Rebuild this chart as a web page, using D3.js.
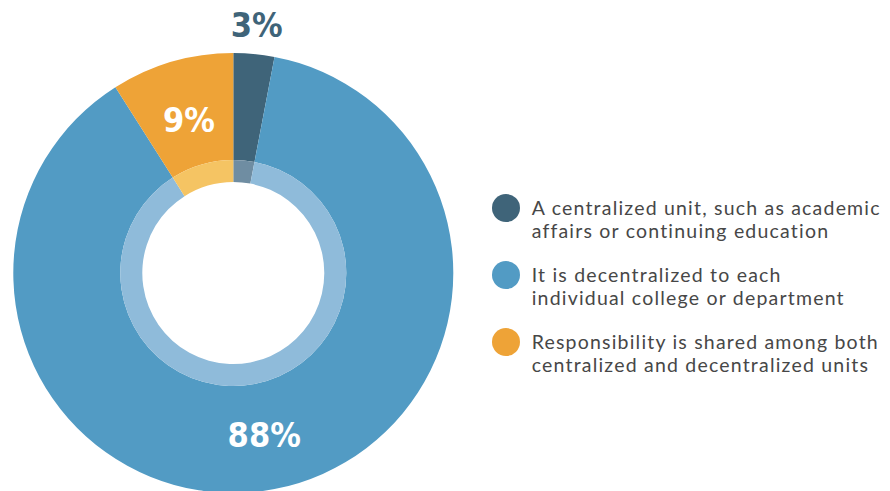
<!DOCTYPE html>
<html>
<head>
<meta charset="utf-8">
<script src="https://cdn.jsdelivr.net/npm/d3@7"></script>
<style>
  html, body { margin: 0; padding: 0; background: #fff; }
  svg { display: block; }
</style>
</head>
<body>
<svg id="chart" width="890" height="491"></svg>
<script>
// Survey responses: who is responsible for the unit
const categories = [
  ["A centralized unit, such as academic", "affairs or continuing education"],
  ["It is decentralized to each", "individual college or department"],
  ["Responsibility is shared among both", "centralized and decentralized units"]
];
const values = [3, 88, 9];
const valueLabels = ["3%", "88%", "9%"];
const colors = ["#3F6479", "#529BC4", "#EEA337"];
const innerColors = ["#6F8DA2", "#8FBBDA", "#F5C463"];

const svg = d3.select("#chart");
const cx = 233.3, cy = 273;
const outerR = 220, bandR = 113, holeR = 91;

const pie = d3.pie().sort(null).value(d => d)(values);

const g = svg.append("g").attr("transform", `translate(${cx},${cy})`);

const arcOuter = d3.arc().innerRadius(bandR).outerRadius(outerR);
const arcBand = d3.arc().innerRadius(holeR).outerRadius(bandR);

g.selectAll("path.outer").data(pie).join("path")
  .attr("class", "outer")
  .attr("d", arcOuter)
  .attr("fill", (d, i) => colors[i]);

g.selectAll("path.band").data(pie).join("path")
  .attr("class", "band")
  .attr("d", arcBand)
  .attr("fill", (d, i) => innerColors[i]);

// Value labels: small slice labelled outside, others inside the ring
const labelFont = "'DejaVu Sans Condensed', 'DejaVu Sans', sans-serif";
const labelPos = [
  { r: 249, color: "#3F6479" },
  { r: 165, color: "#ffffff" },
  { r: 159, color: "#ffffff" }
];
g.selectAll("text.val").data(pie).join("text")
  .attr("class", "val")
  .attr("text-anchor", "middle")
  .attr("font-family", labelFont)
  .attr("font-weight", "bold")
  .attr("font-size", 34)
  .attr("fill", (d, i) => labelPos[i].color)
  .attr("x", (d, i) => {
    const a = (d.startAngle + d.endAngle) / 2;
    return Math.sin(a) * labelPos[i].r;
  })
  .attr("y", (d, i) => {
    const a = (d.startAngle + d.endAngle) / 2;
    return -Math.cos(a) * labelPos[i].r + 12;
  })
  .text((d, i) => valueLabels[i]);

// Legend
const legend = svg.append("g").attr("transform", "translate(506,208)");
const item = legend.selectAll("g.item").data(categories).join("g")
  .attr("class", "item")
  .attr("transform", (d, i) => `translate(0,${i * 67})`);

item.append("circle")
  .attr("r", 14)
  .attr("fill", (d, i) => colors[i]);

item.append("text")
  .attr("x", 25.7)
  .attr("y", 7)
  .attr("font-family", "Lato, 'Noto Sans', sans-serif")
  .attr("font-size", 19.5)
  .attr("letter-spacing", 1.2)
  .attr("fill", "#474747")
  .selectAll("tspan").data(d => d).join("tspan")
  .attr("x", 25.7)
  .attr("dy", (d, j) => j === 0 ? 0 : 23.3)
  .text(d => d);
</script>
</body>
</html>
